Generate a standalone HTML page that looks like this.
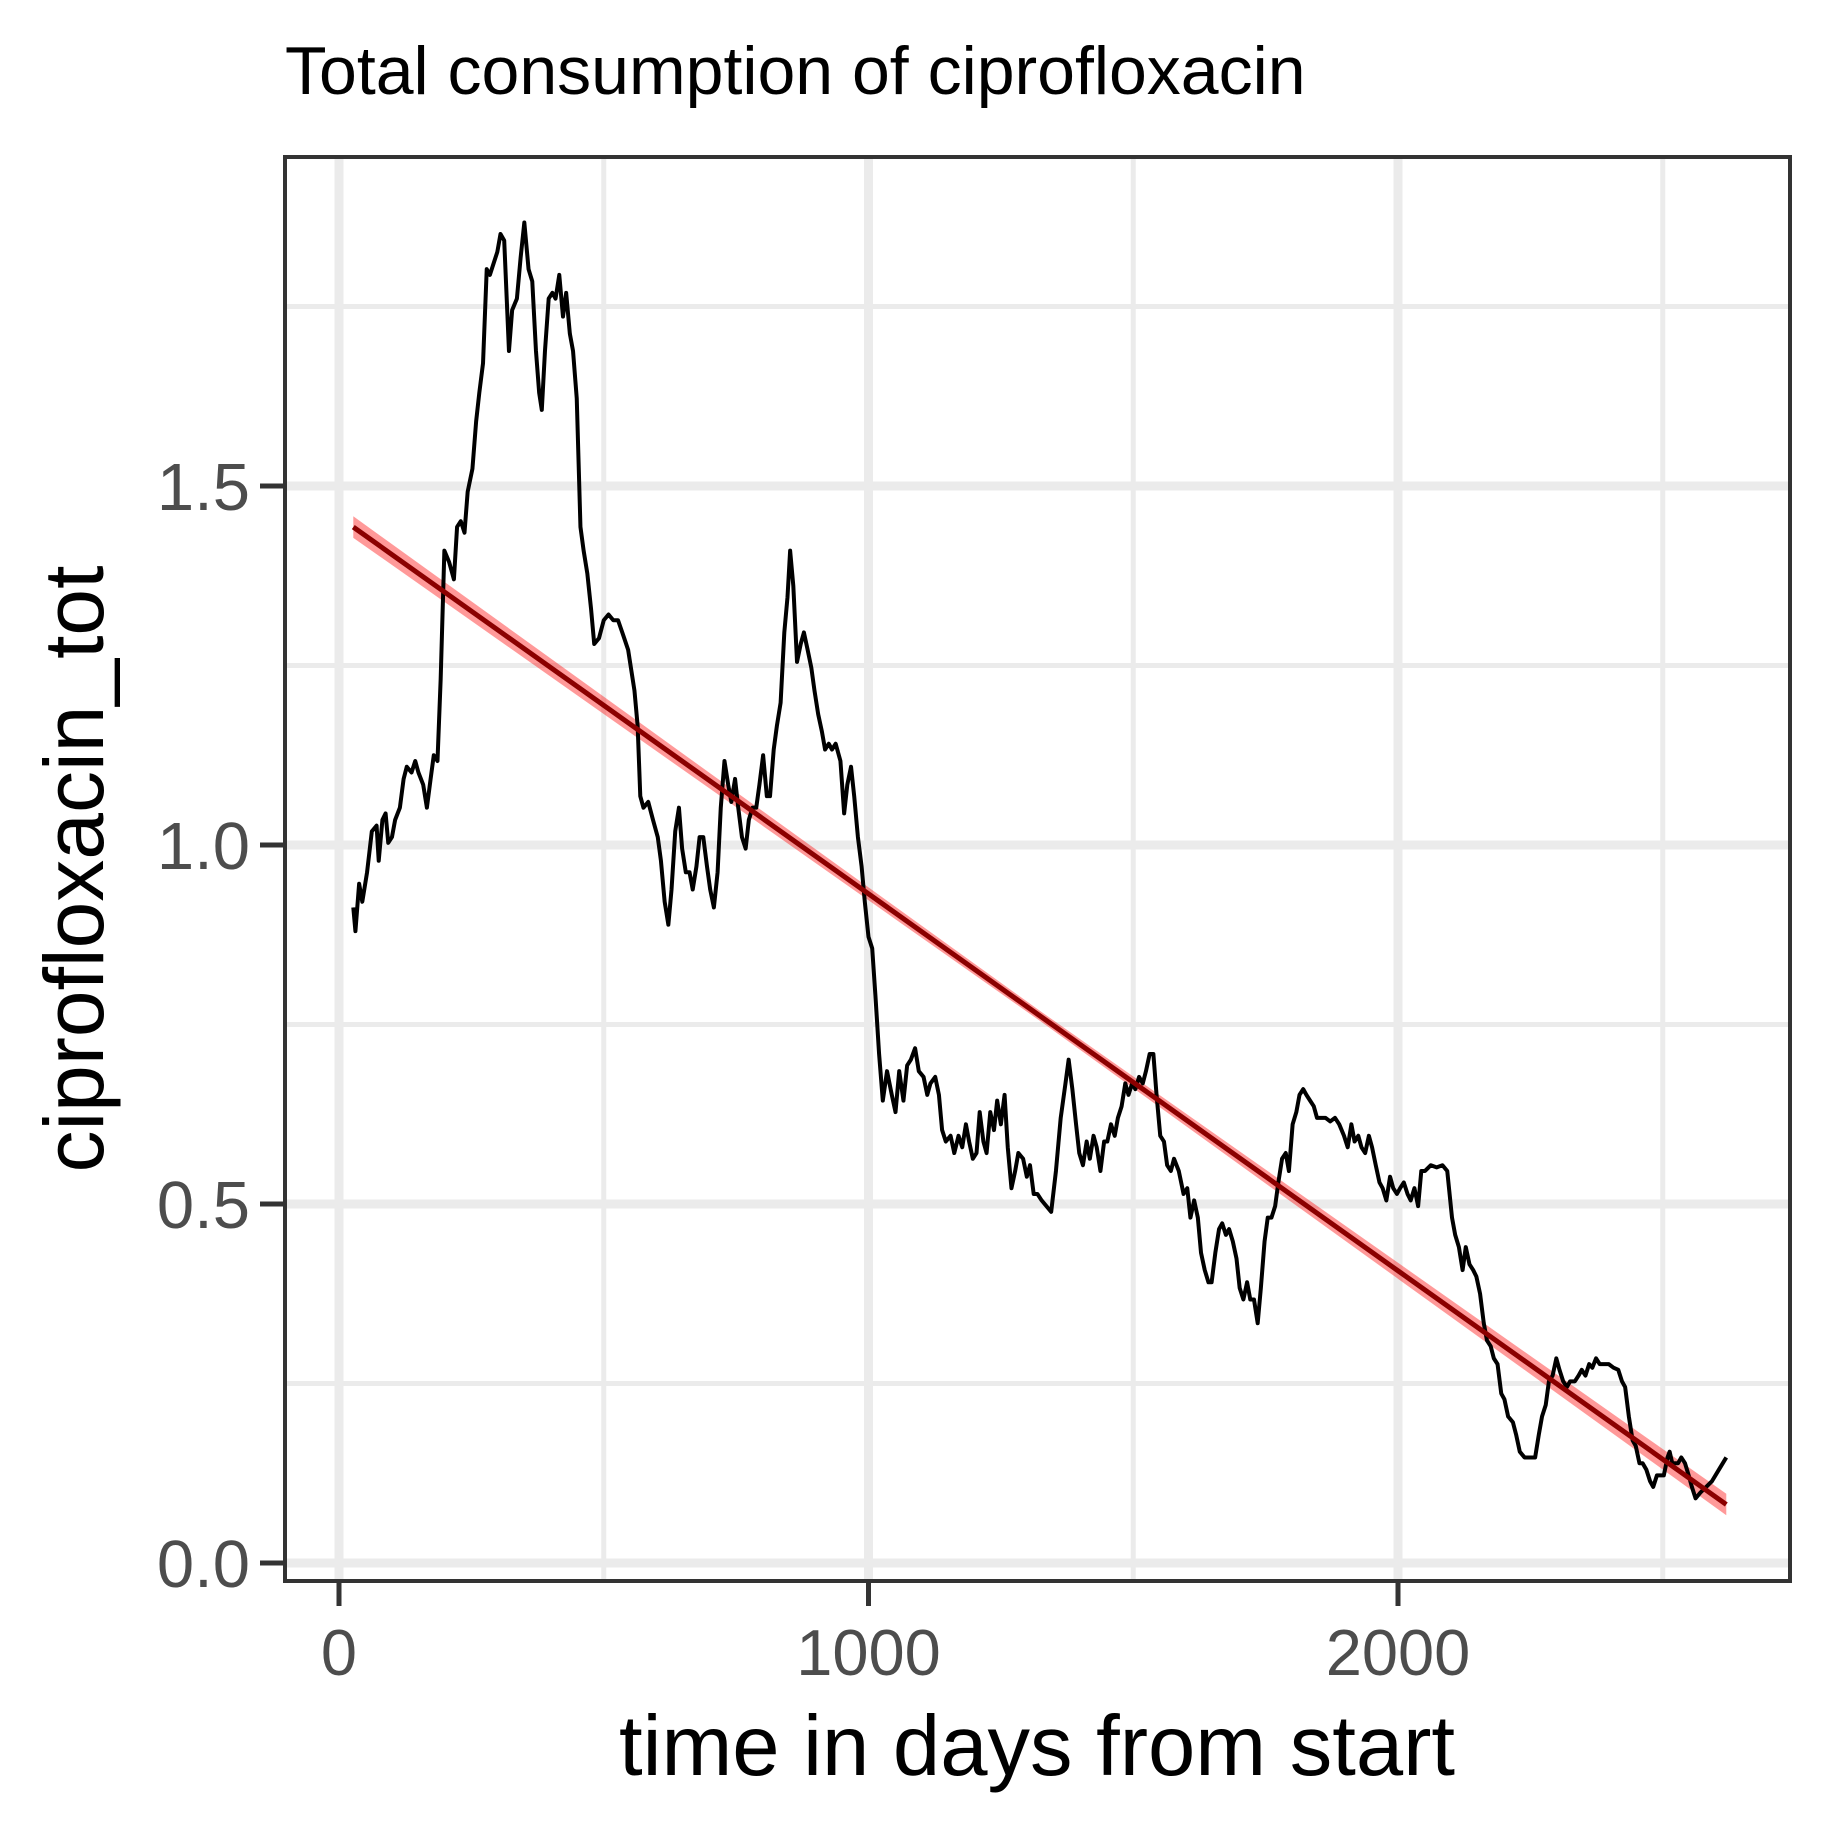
<!DOCTYPE html>
<html><head><meta charset="utf-8"><style>
html,body{margin:0;padding:0;background:#fff;}
svg{display:block;font-family:"Liberation Sans",Arial,sans-serif;}
</style></head><body>
<svg id="chart" width="1825" height="1835" viewBox="0 0 1825 1835" xmlns="http://www.w3.org/2000/svg">
<rect width="1825" height="1835" fill="#fff"/>
<text x="285" y="94" font-size="68" fill="#000">Total consumption of ciprofloxacin</text>
<g id="grid"></g>
<g id="band"></g>
<g id="series"></g>
<rect x="285" y="157" width="1505" height="1424" fill="none" stroke="#333" stroke-width="4"/>
<g id="axes"></g>
<text x="1037" y="1775" font-size="85" text-anchor="middle" fill="#000">time in days from start</text>
<text transform="translate(103,869) rotate(-90)" font-size="84" text-anchor="middle" fill="#000">ciprofloxacin_tot</text>
</svg>
<script>
const days = [27,31,38,44,53,62,71,75,82,88,93,100,106,115,122,128,137,144,150,159,166,173,179,186,192,199,208,217,223,230,237,243,252,259,265,272,279,285,292,299,305,312,321,327,336,343,350,358,365,372,378,383,389,396,403,409,416,423,429,436,442,449,456,462,469,476,482,491,500,509,518,527,535,546,558,564,569,575,584,593,602,608,615,622,628,635,642,648,655,662,668,675,681,688,695,701,708,715,721,728,735,741,748,754,761,768,774,781,788,794,801,808,814,821,827,834,841,847,852,858,865,872,878,885,892,898,905,912,918,925,931,938,947,954,960,967,973,980,987,993,1000,1007,1013,1020,1027,1035,1044,1051,1058,1066,1073,1080,1088,1095,1104,1111,1117,1126,1133,1139,1146,1155,1162,1170,1177,1184,1190,1197,1204,1210,1217,1223,1230,1237,1243,1250,1257,1263,1270,1277,1283,1292,1299,1305,1312,1319,1327,1336,1345,1354,1363,1372,1378,1385,1392,1398,1405,1412,1418,1425,1431,1438,1445,1451,1458,1465,1471,1478,1485,1491,1498,1504,1511,1518,1524,1531,1538,1544,1551,1558,1564,1571,1577,1586,1595,1602,1608,1615,1622,1628,1635,1642,1648,1655,1662,1668,1675,1681,1688,1695,1701,1708,1715,1721,1728,1735,1741,1748,1754,1761,1768,1774,1781,1788,1794,1801,1808,1814,1821,1827,1834,1841,1847,1854,1863,1872,1881,1889,1898,1905,1912,1918,1925,1931,1938,1945,1951,1958,1965,1971,1978,1985,1991,1998,2004,2011,2018,2024,2031,2038,2044,2051,2062,2073,2084,2093,2102,2108,2115,2122,2128,2135,2142,2148,2155,2162,2168,2175,2181,2188,2195,2201,2208,2217,2223,2230,2239,2250,2259,2266,2272,2279,2285,2292,2299,2305,2312,2319,2325,2334,2341,2347,2354,2361,2367,2374,2381,2389,2398,2407,2416,2423,2429,2436,2443,2449,2456,2462,2469,2476,2482,2489,2496,2502,2509,2513,2518,2522,2529,2535,2542,2549,2555,2562,2571,2582,2593,2606,2620];
const values = [0.913,0.880,0.946,0.921,0.962,1.019,1.027,0.978,1.035,1.044,1.003,1.011,1.035,1.052,1.092,1.109,1.101,1.117,1.101,1.084,1.052,1.092,1.125,1.117,1.231,1.410,1.394,1.370,1.443,1.451,1.435,1.492,1.524,1.590,1.630,1.671,1.802,1.794,1.810,1.826,1.851,1.842,1.688,1.745,1.761,1.818,1.867,1.802,1.785,1.688,1.630,1.606,1.688,1.761,1.769,1.761,1.794,1.736,1.769,1.712,1.688,1.622,1.443,1.410,1.378,1.329,1.280,1.288,1.313,1.321,1.313,1.313,1.296,1.272,1.215,1.166,1.068,1.052,1.060,1.035,1.011,0.978,0.921,0.889,0.938,1.019,1.052,0.995,0.962,0.962,0.938,0.970,1.011,1.011,0.970,0.938,0.913,0.962,1.052,1.117,1.084,1.060,1.092,1.052,1.011,0.995,1.035,1.052,1.052,1.084,1.125,1.068,1.068,1.133,1.166,1.198,1.296,1.345,1.410,1.361,1.255,1.280,1.296,1.272,1.247,1.215,1.182,1.158,1.133,1.141,1.133,1.141,1.117,1.044,1.084,1.109,1.068,1.011,0.970,0.921,0.872,0.856,0.791,0.709,0.644,0.685,0.652,0.628,0.685,0.644,0.693,0.701,0.717,0.685,0.677,0.652,0.668,0.677,0.652,0.603,0.587,0.595,0.571,0.595,0.579,0.611,0.587,0.563,0.571,0.628,0.587,0.571,0.628,0.603,0.644,0.611,0.652,0.579,0.522,0.546,0.571,0.563,0.538,0.554,0.514,0.514,0.505,0.497,0.489,0.546,0.620,0.668,0.701,0.660,0.611,0.571,0.554,0.587,0.563,0.595,0.579,0.546,0.587,0.587,0.611,0.595,0.620,0.636,0.668,0.652,0.668,0.660,0.677,0.668,0.685,0.709,0.709,0.652,0.595,0.587,0.554,0.546,0.563,0.546,0.514,0.522,0.481,0.505,0.481,0.432,0.408,0.391,0.391,0.432,0.465,0.473,0.457,0.465,0.448,0.424,0.383,0.367,0.391,0.367,0.367,0.334,0.383,0.448,0.481,0.481,0.497,0.530,0.563,0.571,0.546,0.611,0.628,0.652,0.660,0.652,0.644,0.636,0.620,0.620,0.620,0.615,0.620,0.611,0.595,0.579,0.611,0.587,0.595,0.579,0.571,0.595,0.579,0.554,0.530,0.522,0.505,0.538,0.522,0.514,0.522,0.530,0.514,0.505,0.522,0.497,0.546,0.546,0.554,0.551,0.554,0.546,0.481,0.457,0.440,0.408,0.440,0.416,0.408,0.399,0.375,0.334,0.310,0.302,0.285,0.277,0.236,0.228,0.204,0.196,0.179,0.155,0.147,0.147,0.147,0.179,0.204,0.220,0.253,0.261,0.285,0.269,0.253,0.245,0.253,0.253,0.261,0.269,0.261,0.277,0.272,0.285,0.277,0.277,0.277,0.272,0.269,0.253,0.245,0.204,0.171,0.163,0.139,0.139,0.130,0.114,0.106,0.122,0.122,0.122,0.147,0.155,0.139,0.139,0.139,0.147,0.139,0.122,0.106,0.090,0.098,0.106,0.114,0.130,0.147];
const fitIntercept = 1.457;
const fitSlope = -0.000525;
const fitRange = [27, 2620];
const ciHalf = [0.015, 0.007, 0.015];
const xMajor = [0, 1000, 2000];
const xMajorLabels = ["0", "1000", "2000"];
const xMinor = [500, 1500, 2500];
const yMajor = [0, 0.5, 1.0, 1.5];
const yMajorLabels = ["0.0", "0.5", "1.0", "1.5"];
const yMinor = [0.25, 0.75, 1.25, 1.75];

const NS = "http://www.w3.org/2000/svg";
const PL = 285, PR = 1790, PT = 157, PB = 1581;
function X(d){ return 339 + d * 0.5295; }
function Y(v){ return 1563 - v * 718; }
function mk(tag, attrs, parent){
  const e = document.createElementNS(NS, tag);
  for (const k in attrs) e.setAttribute(k, attrs[k]);
  parent.appendChild(e); return e;
}
const grid = document.getElementById('grid');
const axes = document.getElementById('axes');
xMinor.forEach(d => {
  const l = mk('line', {x1:X(d), x2:X(d), y1:PT, y2:PB, stroke:'#ebebeb', 'stroke-width':5}, grid);
  
  
});
yMinor.forEach(v => {
  const l = mk('line', {x1:PL, x2:PR, y1:Y(v), y2:Y(v), stroke:'#ebebeb', 'stroke-width':5}, grid);
  
  
});
xMajor.forEach((d, i) => {
  const l = mk('line', {x1:X(d), x2:X(d), y1:PT, y2:PB, stroke:'#ebebeb', 'stroke-width':9}, grid);
  
  
  const t = mk('line', {x1:X(d), x2:X(d), y1:PB, y2:PB+25, stroke:'#333', 'stroke-width':5}, axes);
  
  
  const tx = mk('text', {x:X(d), y:1675, 'font-size':65, fill:'#4d4d4d', 'text-anchor':'middle'}, axes);
  tx.textContent = xMajorLabels[i];
  
  
});
yMajor.forEach((v, i) => {
  const l = mk('line', {x1:PL, x2:PR, y1:Y(v), y2:Y(v), stroke:'#ebebeb', 'stroke-width':9}, grid);
  
  
  const t = mk('line', {x1:PL-25, x2:PL, y1:Y(v), y2:Y(v), stroke:'#333', 'stroke-width':5}, axes);
  
  
  const tx = mk('text', {x:250, y:Y(v)+24, 'font-size':67, fill:'#4d4d4d', 'text-anchor':'end'}, axes);
  tx.textContent = yMajorLabels[i];
  
  
});
const d0 = fitRange[0], d1 = fitRange[1], dm = (d0 + d1) / 2;
const f = d => fitIntercept + fitSlope * d;
const up = [[d0, f(d0)+ciHalf[0]], [dm, f(dm)+ciHalf[1]], [d1, f(d1)+ciHalf[2]]];
const lo = [[d1, f(d1)-ciHalf[2]], [dm, f(dm)-ciHalf[1]], [d0, f(d0)-ciHalf[0]]];
const band = mk('polygon', {points: up.concat(lo).map(p => X(p[0]) + ',' + Y(p[1])).join(' '), fill:'rgba(255,0,0,0.4)'}, document.getElementById('band'));


const series = document.getElementById('series');
const line = mk('polyline', {points: days.map((d, i) => X(d) + ',' + Y(values[i])).join(' '), fill:'none', stroke:'#000', 'stroke-width':4, 'stroke-linejoin':'round'}, series);


const fit = mk('line', {x1:X(d0), y1:Y(f(d0)), x2:X(d1), y2:Y(f(d1)), stroke:'#8b0000', 'stroke-width':5}, series);


</script>
</body></html>
